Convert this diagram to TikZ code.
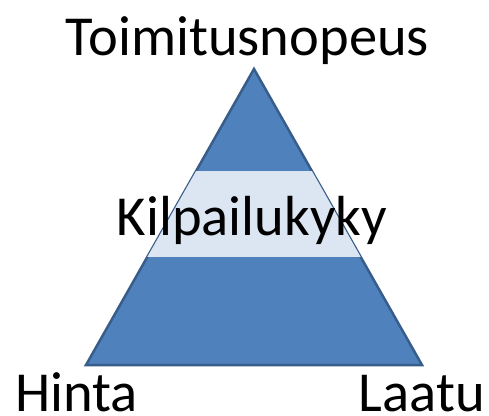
\documentclass[tikz,border=0pt]{standalone}
\usepackage{fontspec}
\setmainfont{Carlito}
\definecolor{triblue}{HTML}{4F81BD}
\definecolor{triedge}{HTML}{385D8A}
\definecolor{bandcol}{HTML}{DCE6F2}
\tikzset{lbl/.style={font=\fontsize{56.5}{57}\selectfont, inner sep=0pt, text=black}}
\begin{document}
\begin{tikzpicture}[x=1pt,y=-1pt]
\useasboundingbox (0,0) rectangle (489,415);
\coordinate (apex) at (254,69);
\coordinate (bl) at (86,365);
\coordinate (br) at (422,365);
\fill[triblue, draw=triedge, line width=2.5pt, line join=miter] (apex) -- (br) -- (bl) -- cycle;
\begin{scope}
\clip (apex) -- (br) -- (bl) -- cycle;
\fill[bandcol] (0,171) rectangle (489,257);
\end{scope}
\node[lbl, anchor=base] (top) at (247.5,55) {Toimitusnopeus};
\node[lbl, anchor=base] (mid) at (252,235) {Kilpailukyky};
\node[lbl, anchor=base west] (left) at (15,411) {Hinta};
\node[lbl, anchor=base east] (right) at (485,411) {Laatu};
\end{tikzpicture}
\end{document}
